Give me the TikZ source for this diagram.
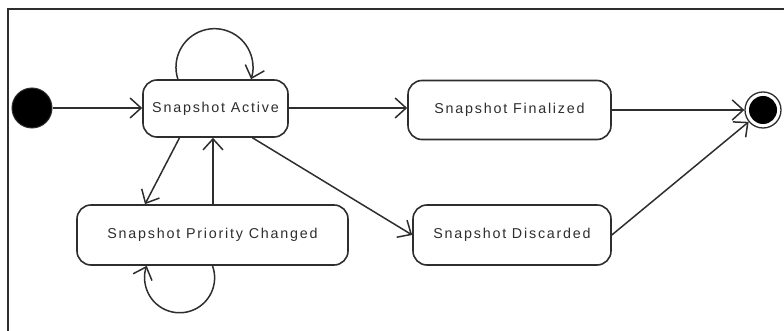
\documentclass[tikz,border=0pt]{standalone}
\usepackage{fontspec}
\setmainfont{Liberation Sans}[LetterSpace=12.5]
\usetikzlibrary{arrows.meta}
\definecolor{ink}{HTML}{2E2E2E}
\begin{document}
\begin{tikzpicture}[x=1pt,y=-1pt,
  state/.style={draw=ink, line width=1.6pt, rounded corners=14pt, fill=white,
    inner sep=0pt, font=\fontsize{14.3}{16}\selectfont, text=ink},
  flow/.style={draw=ink, line width=1.5pt,
    -{Straight Barb[length=11pt,width=20pt,line width=1.5pt]}},
  startdot/.style={circle, fill=black, draw=ink, line width=1pt, minimum size=40pt, inner sep=0pt},
  enddot/.style={circle, draw=ink, line width=1.3pt, minimum size=36pt, inner sep=0pt,
    path picture={\fill[black] (path picture bounding box.center) circle[radius=14pt];}}]
  \useasboundingbox (0,0) rectangle (784,331);
  % frame
  \draw[ink, line width=2pt] (784,9) -- (8,9) -- (8,331);

  % states
  \node[startdot] (init) at (32,108) {};
  \node[state, minimum width=145pt, minimum height=57pt] (active) at (215.5,108.5) {Snapshot Active};
  \node[state, minimum width=203pt, minimum height=59pt] (final1) at (509.5,110) {Snapshot Finalized};
  \node[state, minimum width=198pt, minimum height=60pt] (discard) at (512,235) {Snapshot Discarded};
  \node[state, minimum width=271pt, minimum height=60pt] (prio) at (212.5,235) {Snapshot Priority Changed};
  \node[enddot] (end) at (763,110) {};

  % transitions
  \draw[flow] (init) -- (active.west |- init);
  \draw[flow] ([xshift=-37.6pt]active.north) arc[start angle=161.8, end angle=378.2, radius=38.5];
  \draw[flow] (active.east |- init) -- (final1.west |- init);
  \draw[flow] ([xshift=-36pt]active.south) -- ([xshift=-67.5pt]prio.north);
  \draw[flow] ([xshift=0.5pt]prio.north) -- ([xshift=0.5pt]prio.north |- active.south);
  \draw[flow] ([xshift=37pt]active.south) -- (discard.west);
  \draw[flow] (prio.south) arc[start angle=-20, end angle=200, radius=35];
  \draw[flow] (final1.east) -- (end.west);
  \draw[flow] (discard.east) -- (end);
\end{tikzpicture}
\end{document}
